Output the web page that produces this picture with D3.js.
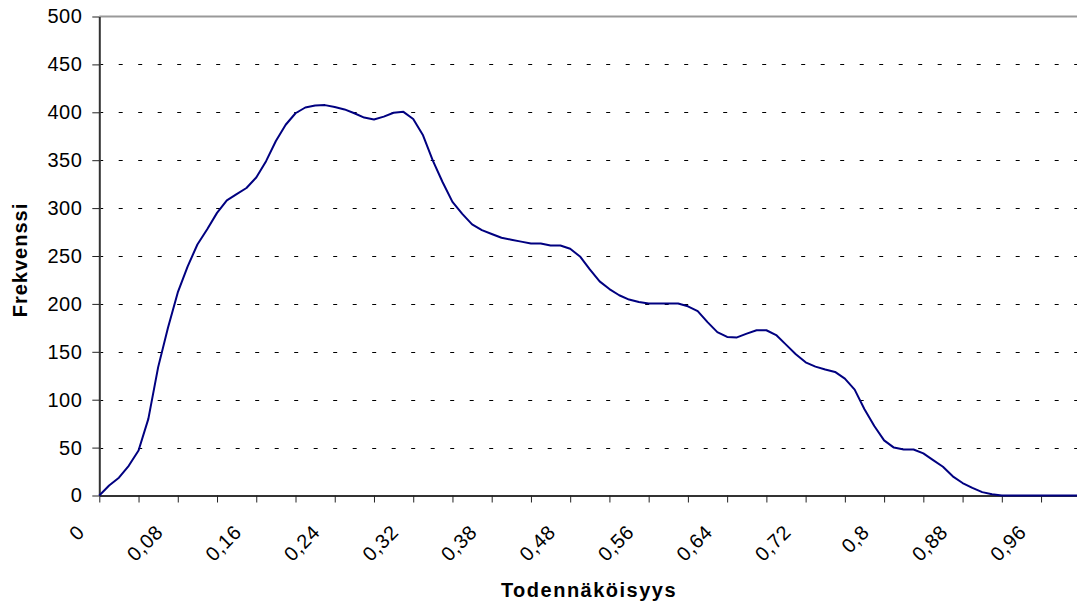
<!DOCTYPE html>
<html>
<head>
<meta charset="utf-8">
<script src="https://cdn.jsdelivr.net/npm/d3@7"></script>
<style>
  html, body { margin: 0; padding: 0; background: #fff; }
  svg { display: block; }
  text { font-family: Arial, "Liberation Sans", sans-serif; fill: #000; }
</style>
</head>
<body>
<svg id="chart" width="1077" height="607"></svg>
<script>
// frequency per probability class (0, 0.01, ... 1.00)
var frequency = [
    0, 10.5, 18.6, 31, 47, 80, 134, 175, 212, 239,
    262, 278, 295, 308, 314.5, 321, 332, 349, 370, 387,
    399, 405, 407, 407.5, 405.5, 403, 399, 394.5, 392.5, 395.5,
    399.5, 400.5, 393, 376, 349.5, 327, 306.5, 294, 283, 277,
    273, 269, 267, 265, 263, 263, 261, 261, 257.5, 249.5,
    236, 223.5, 215.5, 209, 204.5, 202, 200.5, 200.5, 200.5, 200.5,
    197.5, 192.5, 181, 170.5, 165.5, 165, 169, 172.5, 172.5, 167.5,
    157.5, 147.5, 139, 134.5, 131.5, 129, 122, 110.5, 90, 72.5,
    57.5, 50, 48, 48, 44, 37, 30, 20, 13, 8,
    3.5, 1.3, 0.1, 0, 0, 0, 0, 0, 0, 0,
    0
];
var xTickLabels = ["0", "0,08", "0,16", "0,24", "0,32", "0,38", "0,48",
                   "0,56", "0,64", "0,72", "0,8", "0,88", "0,96"];
var yTicks = [0, 50, 100, 150, 200, 250, 300, 350, 400, 450, 500];

var svg = d3.select("#chart");
var plotLeft = 99.3, plotTop = 16.5, plotBottom = 495.5, plotRight = plotLeft + 981;

var x = d3.scaleLinear().domain([0, frequency.length - 1]).range([plotLeft, plotRight]);
var y = d3.scaleLinear().domain([0, 500]).range([plotBottom, plotTop]);

// dashed gridlines
svg.append("g")
    .selectAll("line")
    .data(yTicks.filter(function(d) { return d > 0 && d < 500; }))
    .enter()
    .append("line")
    .attr("x1", plotLeft + 1)
    .attr("x2", 1077)
    .attr("y1", function(d) { return Math.round(y(d)) + 0.5; })
    .attr("y2", function(d) { return Math.round(y(d)) + 0.5; })
    .attr("stroke", "#000")
    .attr("stroke-width", 1)
    .attr("stroke-dasharray", "4,15.5")
    .attr("stroke-dashoffset", 1.1);

// top line at 500
svg.append("line")
    .attr("x1", plotLeft)
    .attr("x2", 1077)
    .attr("y1", y(500))
    .attr("y2", y(500))
    .attr("stroke", "#999")
    .attr("stroke-width", 2);

// y axis
var yAxis = svg.append("g")
    .attr("transform", "translate(" + plotLeft + ",0)")
    .call(d3.axisLeft(y).tickValues(yTicks).tickSize(7).tickSizeOuter(0).tickPadding(10).tickFormat(d3.format("d")));
yAxis.select(".domain").attr("stroke", "#333").attr("stroke-width", 2);
yAxis.selectAll(".tick line").attr("stroke", "#222");
yAxis.selectAll(".tick text")
    .attr("font-size", 20)
    .attr("letter-spacing", 0.5)
    .attr("font-family", "Arial, 'Liberation Sans', sans-serif");

// x axis (category style: tick every 4 classes, label every 8)
var xAxis = svg.append("g")
    .attr("transform", "translate(0," + plotBottom + ")")
    .call(d3.axisBottom(x)
        .tickValues(d3.range(0, frequency.length, 4))
        .tickSize(7)
        .tickSizeOuter(0)
        .tickFormat(function(d) { return d % 8 === 0 ? (xTickLabels[d / 8] || "") : ""; }));
xAxis.select(".domain").attr("stroke", "#333").attr("stroke-width", 2);
xAxis.selectAll(".tick line").attr("stroke", "#222");
xAxis.selectAll(".tick text")
    .attr("font-size", 20)
    .attr("letter-spacing", 0.5)
    .attr("font-family", "Arial, 'Liberation Sans', sans-serif")
    .attr("text-anchor", "end")
    .attr("x", 0)
    .attr("y", 0)
    .attr("dy", 0)
    .attr("transform", "translate(-14,38) rotate(-45)");

// the curve
var line = d3.line()
    .x(function(d, i) { return x(i); })
    .y(function(d) { return y(d); });

svg.append("path")
    .datum(frequency)
    .attr("d", line)
    .attr("fill", "none")
    .attr("stroke", "#000080")
    .attr("stroke-width", 2)
    .attr("stroke-linejoin", "round");

// axis titles
svg.append("text")
    .attr("transform", "translate(26.5,260) rotate(-90)")
    .attr("text-anchor", "middle")
    .attr("font-size", 20)
    .attr("font-weight", "bold")
    .attr("letter-spacing", 1)
    .text("Frekvenssi");

svg.append("text")
    .attr("x", 589)
    .attr("y", 596.5)
    .attr("text-anchor", "middle")
    .attr("font-size", 20)
    .attr("font-weight", "bold")
    .attr("letter-spacing", 1.5)
    .text("Todennäköisyys");
</script>
</body>
</html>
